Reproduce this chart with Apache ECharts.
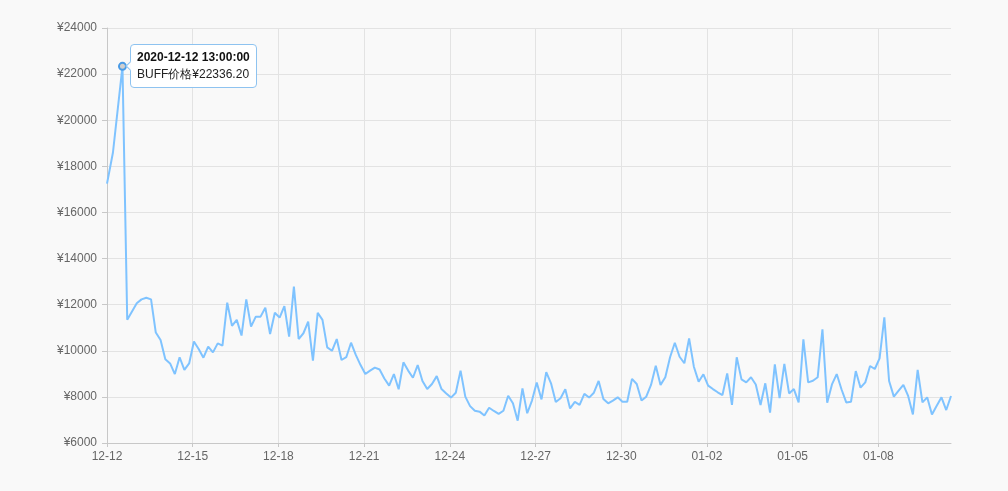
<!DOCTYPE html>
<html>
<head>
<meta charset="utf-8">
<script src="https://cdn.jsdelivr.net/npm/echarts@6/dist/echarts.min.js"></script>
<style>
html,body{margin:0;padding:0;background:#f9f9f9;}
#chart{width:1008px;height:491px;}
</style>
</head>
<body>
<div id="chart"></div>
<script>
// Start of the series (UTC) and hour offsets of each sample from it
var START = '2020-12-12T00:00:00Z';
var SERIES_NAME = 'BUFF价格';
var hours = [0,5,13,17,25,29,33,37,41,45,49,53,57,61,65,69,73,77,81,85,89,93,97,101,105,109,113,117,121,125,129,133,137,141,145,149,153,157,161,165,169,173,177,181,185,189,193,197,201,205,209,213,217,221,225,229,233,237,241,245,249,253,257,261,265,269,273,277,281,285,289,293,297,301,305,309,313,317,321,325,329,333,337,341,345,349,353,357,361,365,369,373,377,381,385,389,393,397,401,405,409,413,417,421,425,429,433,437,441,445,449,453,457,461,465,469,473,477,481,485,489,493,497,501,505,509,513,517,521,525,529,533,537,541,545,549,553,557,561,565,569,573,577,581,585,589,593,597,601,605,609,613,617,621,625,629,633,637,641,645,649,653,657,661,665,669,673,677,681,685,689,693,697,701,705,709];
var prices = [17250,18600,22336.20,11350,12060,12230,12300,12230,10790,10470,9630,9450,8990,9720,9170,9450,10400,10080,9700,10180,9930,10320,10220,12090,11080,11340,10660,12230,11050,11480,11480,11870,10730,11650,11440,11940,10610,12780,10510,10760,11260,9570,11650,11340,10150,10000,10510,9600,9720,10350,9820,9380,8990,9140,9270,9190,8800,8490,8990,8330,9500,9140,8830,9380,8690,8340,8560,8900,8340,8150,7970,8180,9140,8010,7600,7400,7360,7190,7530,7390,7260,7400,8050,7720,6970,8370,7290,7840,8620,7890,9070,8590,7780,7940,8330,7500,7780,7650,8130,7970,8180,8690,7910,7720,7840,7980,7790,7790,8780,8560,7840,8010,8520,9350,8520,8850,9720,10350,9740,9460,10540,9310,8660,8980,8490,8340,8200,8080,9020,7650,9720,8760,8630,8850,8540,7650,8590,7320,9410,7950,9430,8150,8340,7760,10500,8630,8700,8850,10930,7750,8540,8990,8330,7760,7790,9120,8400,8630,9340,9210,9670,11450,8690,8010,8270,8520,8040,7240,9170,7760,7980,7240,7620,7980,7430,8040];
var yTicks = {min: 6000, max: 24000, step: 2000};
var xTickDays = 3;
var TIP_INDEX = 2;

var startMs = Date.parse(START);
function pad(n){return (n<10?'0':'')+n;}
function hToDate(h){return new Date(startMs + h*3600000);}
function fmtMD(h){var d=hToDate(h);return pad(d.getUTCMonth()+1)+'-'+pad(d.getUTCDate());}
function fmtFull(h){var d=hToDate(h);return d.getUTCFullYear()+'-'+pad(d.getUTCMonth()+1)+'-'+pad(d.getUTCDate())+' '+pad(d.getUTCHours())+':'+pad(d.getUTCMinutes())+':'+pad(d.getUTCSeconds());}

var data = hours.map(function(h,i){return [h, prices[i]];});
var FONT = '"Liberation Sans", Arial, sans-serif';

var chart = echarts.init(document.getElementById('chart'), null, {renderer:'canvas'});
chart.setOption({
  animation: false,
  backgroundColor: '#f9f9f9',
  grid: {left: 107, right: 57, top: 28, bottom: 48},
  tooltip: {
    trigger: 'item',
    triggerOn: 'none',
    alwaysShowContent: true,
    position: 'right',
    backgroundColor: 'rgba(255,255,255,0.95)',
    borderColor: '#8ec3f0',
    borderWidth: 1,
    borderRadius: 4,
    padding: [4, 6],
    extraCssText: 'box-shadow:none;border-color:#8ec3f0 !important;margin-left:-7px;',
    textStyle: {fontFamily: FONT, fontSize: 12, color: '#333'},
    formatter: function(p){
      return '<div style="font-weight:bold;color:#111;line-height:17px;">'+fmtFull(p.value[0])+'</div>'+
             '<div style="line-height:17px;color:#222;">'+p.seriesName+'¥'+p.value[1].toFixed(2)+'</div>';
    }
  },
  xAxis: {
    type: 'value',
    min: hours[0],
    max: hours[hours.length-1],
    interval: xTickDays*24,
    axisLine: {show: true, lineStyle: {color: '#c8c8c8'}},
    axisTick: {show: true, length: 4, lineStyle: {color: '#c8c8c8'}},
    axisLabel: {color: '#666', fontFamily: FONT, fontSize: 12, margin: 8, showMaxLabel: false,
      formatter: function(v){return fmtMD(v);}},
    splitLine: {show: true, showMaxLine: false, lineStyle: {color: '#e3e3e3'}}
  },
  yAxis: {
    type: 'value',
    min: yTicks.min,
    max: yTicks.max,
    interval: yTicks.step,
    axisLine: {show: true, lineStyle: {color: '#c8c8c8'}},
    axisTick: {show: true, length: 5, lineStyle: {color: '#c8c8c8'}},
    axisLabel: {color: '#666', fontFamily: FONT, fontSize: 12, margin: 10,
      formatter: function(v){return '¥' + String(v);}},
    splitLine: {show: true, lineStyle: {color: '#e3e3e3'}}
  },
  series: [{
    name: SERIES_NAME,
    type: 'line',
    data: data,
    showSymbol: true,
    symbol: 'circle',
    symbolSize: 7,
    lineStyle: {color: '#74b2ea', width: 2},
    itemStyle: {color: '#cfcfcf', borderColor: '#4a9be6', borderWidth: 2, opacity: 0},
    emphasis: {scale: false, lineStyle: {width: 2}, itemStyle: {opacity: 1, color: '#cfcfcf', borderColor: '#4a9be6', borderWidth: 2}}
  }]
});
chart.dispatchAction({type: 'highlight', seriesIndex: 0, dataIndex: TIP_INDEX});
chart.dispatchAction({type: 'showTip', seriesIndex: 0, dataIndex: TIP_INDEX});
</script>
</body>
</html>
